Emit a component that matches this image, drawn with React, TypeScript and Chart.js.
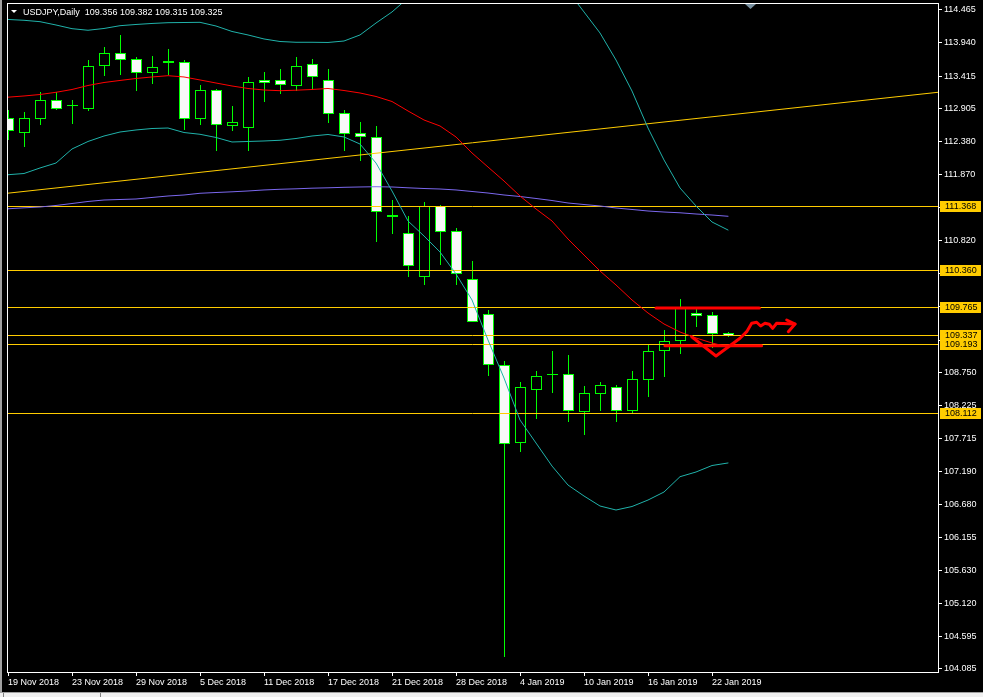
import React, { useEffect, useRef } from "react";
import { Chart, registerables } from "chart.js";
Chart.register(...registerables);

// ---------- data ----------
const dates = [
  "19 Nov 2018", "20 Nov 2018", "21 Nov 2018", "22 Nov 2018", "23 Nov 2018", "26 Nov 2018",
  "27 Nov 2018", "28 Nov 2018", "29 Nov 2018", "30 Nov 2018", "3 Dec 2018", "4 Dec 2018",
  "5 Dec 2018", "6 Dec 2018", "7 Dec 2018", "10 Dec 2018", "11 Dec 2018", "12 Dec 2018",
  "13 Dec 2018", "14 Dec 2018", "17 Dec 2018", "18 Dec 2018", "19 Dec 2018", "20 Dec 2018",
  "21 Dec 2018", "24 Dec 2018", "26 Dec 2018", "27 Dec 2018", "28 Dec 2018", "31 Dec 2018",
  "2 Jan 2019", "3 Jan 2019", "4 Jan 2019", "7 Jan 2019", "8 Jan 2019", "9 Jan 2019",
  "10 Jan 2019", "11 Jan 2019", "14 Jan 2019", "15 Jan 2019", "16 Jan 2019", "17 Jan 2019",
  "18 Jan 2019", "21 Jan 2019", "22 Jan 2019", "23 Jan 2019",
];
const xTickIdx = [0, 4, 8, 12, 16, 20, 24, 28, 32, 36, 40, 44];

const openP = [
  112.750, 112.530, 112.750, 113.033, 112.950, 112.907, 113.584, 113.773, 113.678, 113.474,
  113.648, 113.631, 112.750, 113.190, 112.640, 112.608, 113.348, 113.348, 113.269, 113.600,
  113.348, 112.829, 112.514, 112.451, 111.212, 110.940, 110.264, 111.365, 110.972, 110.216,
  109.666, 108.863, 107.651, 108.486, 108.718, 108.722, 108.133, 108.423, 108.517, 108.149,
  108.643, 109.099, 109.250, 109.681, 109.650, 109.356,
];
const highP = [
  112.880, 112.844, 113.159, 113.148, 113.027, 113.667, 113.861, 114.045, 113.699, 113.730,
  113.825, 113.663, 113.258, 113.206, 112.943, 113.384, 113.478, 113.521, 113.710, 113.678,
  113.521, 112.865, 112.676, 112.613, 111.464, 111.197, 111.417, 111.370, 111.008, 110.489,
  109.733, 108.915, 108.600, 108.758, 109.088, 109.010, 108.522, 108.600, 108.548, 108.773,
  109.183, 109.403, 109.891, 109.760, 109.697, 109.382,
];
const lowP = [
  112.419, 112.303, 112.649, 112.885, 112.665, 112.876, 113.420, 113.436, 113.184, 113.301,
  113.436, 112.570, 112.649, 112.240, 112.555, 112.240, 113.011, 113.143, 113.190, 113.206,
  112.676, 112.240, 112.083, 110.808, 110.934, 110.257, 110.138, 110.446, 110.138, 109.545,
  108.703, 104.278, 107.504, 108.023, 108.432, 107.976, 107.771, 108.149, 107.976, 108.117,
  108.369, 108.684, 109.046, 109.471, 109.140, 109.315,
];
const closeP = [
  112.550, 112.750, 113.033, 112.907, 112.958, 113.568, 113.773, 113.678, 113.474, 113.552,
  113.625, 112.750, 113.190, 112.649, 112.687, 113.316, 113.316, 113.285, 113.568, 113.411,
  112.829, 112.514, 112.467, 111.286, 111.222, 110.437, 111.365, 110.972, 110.311, 109.556,
  108.879, 107.636, 108.517, 108.690, 108.726, 108.149, 108.423, 108.548, 108.149, 108.643,
  109.088, 109.241, 109.760, 109.650, 109.367, 109.325,
];

// Bollinger Bands (20) and moving averages
const bbUpper = [
  114.305, 114.292, 114.270, 114.218, 114.160, 114.135, 114.163, 114.207, 114.226, 114.242,
  114.254, 114.257, 114.260, 114.202, 114.116, 114.061, 113.998, 113.958, 113.946, 113.946,
  113.943, 113.966, 114.061, 114.249, 114.423, 114.643, 115.005, 115.241, 115.430, 115.603,
  115.744, 115.792, 115.713, 115.477, 115.162, 114.753, 114.423, 114.092, 113.667, 113.179,
  112.597, 112.094, 111.653, 111.370, 111.118, 110.992,
];
const bbMiddle = [
  113.082, 113.101, 113.124, 113.159, 113.203, 113.266, 113.313, 113.345, 113.376, 113.400,
  113.420, 113.400, 113.353, 113.305, 113.258, 113.219, 113.195, 113.184, 113.192, 113.203,
  113.219, 113.187, 113.148, 113.093, 113.014, 112.865, 112.723, 112.629, 112.456, 112.204,
  111.983, 111.763, 111.527, 111.323, 111.134, 110.850, 110.599, 110.347, 110.127, 109.891,
  109.686, 109.513, 109.387, 109.293, 109.214, 109.151,
];
const bbLower = [
  111.862, 111.881, 111.968, 112.046, 112.267, 112.385, 112.471, 112.534, 112.566, 112.589,
  112.597, 112.526, 112.498, 112.448, 112.377, 112.385, 112.393, 112.404, 112.432, 112.471,
  112.495, 112.456, 112.345, 112.046, 111.606, 111.134, 110.898, 110.646, 110.300, 109.891,
  109.261, 108.663, 108.002, 107.640, 107.278, 106.979, 106.806, 106.649, 106.586, 106.641,
  106.743, 106.869, 107.110, 107.184, 107.286, 107.326,
];
const maSlow = [
  111.326, 111.341, 111.354, 111.378, 111.409, 111.441, 111.464, 111.472, 111.480, 111.504,
  111.527, 111.543, 111.570, 111.582, 111.593, 111.606, 111.622, 111.633, 111.640, 111.650,
  111.656, 111.664, 111.669, 111.673, 111.669, 111.656, 111.645, 111.637, 111.622, 111.598,
  111.574, 111.543, 111.519, 111.488, 111.456, 111.417, 111.393, 111.370, 111.338, 111.315,
  111.291, 111.275, 111.263, 111.244, 111.228, 111.208,
];

// Rising trendline (bar index, price)
const trendIdx = [-1, 59];
const trendPrice = [111.544, 113.183];

// Horizontal price levels
const levels = [111.368, 110.36, 109.765, 109.337, 109.193, 108.112];

// Red hand drawings
const redTopIdx = [40.5, 46.96];
const redTopPrice = [109.765, 109.765];
const redBotIdx = [41.06, 47.1];
const redBotPrice = [109.172, 109.172];
const redPathIdx = [42.73, 44.25, 45.75, 46.17, 46.48, 46.79, 47.04, 47.31, 47.58, 47.79, 48.04, 49.19];
const redPathPrice = [109.313, 109.01, 109.288, 109.392, 109.524, 109.54, 109.481, 109.524, 109.508, 109.445, 109.524, 109.513];
const arrowIdx = [48.67, 49.19, 48.77];
const arrowPrice = [109.576, 109.513, 109.392];

// Price axis ticks
const yTicks = [
  114.465, 113.94, 113.415, 112.905, 112.38, 111.87, 111.345, 110.82, 110.31, 109.785, 109.26,
  108.75, 108.225, 107.715, 107.19, 106.68, 106.155, 105.63, 105.12, 104.595, 104.085,
];

const headerText = "USDJPY,Daily  109.356 109.382 109.315 109.325";

// ---------- styling ----------
const FONT = "'Liberation Sans', Arial, sans-serif";
const GOLD = "#FFCC00";
const GREEN = "#00FF00";
const TEAL = "#20B2AA";

const lineDs = (xs: number[], ys: number[], color: string, width: number) => ({
  type: "line" as const,
  data: xs.map((x, i) => ({ x, y: ys[i] })),
  borderColor: color,
  borderWidth: width,
  pointRadius: 0,
  pointHoverRadius: 0,
  fill: false,
  tension: 0,
  clip: 0,
  borderJoinStyle: "round" as const,
  borderCapStyle: "round" as const,
});

const idx = dates.map((_, i) => i);

const bgPlugin = {
  id: "bg",
  beforeDraw(chart: any) {
    const { ctx, width, height } = chart;
    ctx.save();
    ctx.fillStyle = "#000000";
    ctx.fillRect(0, 0, width, height);
    ctx.restore();
  },
};

const candlePlugin = {
  id: "candles",
  beforeDatasetsDraw(chart: any) {
    const { ctx, chartArea: a, scales } = chart;
    const x = scales.x;
    const y = scales.y;
    ctx.save();
    ctx.beginPath();
    ctx.rect(a.left, a.top, a.right - a.left, a.bottom - a.top);
    ctx.clip();
    ctx.lineWidth = 1;
    ctx.strokeStyle = GREEN;
    for (let i = 0; i < openP.length; i++) {
      const cx = Math.round(x.getPixelForValue(i));
      const yo = Math.floor(y.getPixelForValue(openP[i]));
      const yc = Math.floor(y.getPixelForValue(closeP[i]));
      const yh = Math.floor(y.getPixelForValue(highP[i]));
      const yl = Math.floor(y.getPixelForValue(lowP[i]));
      ctx.beginPath();
      ctx.moveTo(cx + 0.5, yh);
      ctx.lineTo(cx + 0.5, yl + 1);
      ctx.stroke();
      const top = Math.min(yo, yc);
      const bot = Math.max(yo, yc);
      if (bot - top < 1) {
        ctx.beginPath();
        ctx.moveTo(cx - 5, top + 0.5);
        ctx.lineTo(cx + 6, top + 0.5);
        ctx.stroke();
      } else {
        ctx.fillStyle = closeP[i] < openP[i] ? "#F8F8F8" : "#000000";
        ctx.fillRect(cx - 5, top, 11, bot - top + 1);
        ctx.strokeRect(cx - 4.5, top + 0.5, 10, bot - top);
      }
    }
    // horizontal levels
    ctx.strokeStyle = GOLD;
    for (const v of levels) {
      const py = Math.floor(y.getPixelForValue(v)) + 0.5;
      ctx.beginPath();
      ctx.moveTo(a.left, py);
      ctx.lineTo(a.right, py);
      ctx.stroke();
    }
    ctx.restore();
  },
};

const overlayPlugin = {
  id: "overlay",
  afterDraw(chart: any) {
    const { ctx, chartArea: a, scales, width, height } = chart;
    const y = scales.y;
    ctx.save();
    // frame
    ctx.strokeStyle = "#FFFFFF";
    ctx.lineWidth = 1;
    ctx.strokeRect(a.left + 0.5, a.top + 0.5, a.right - a.left, a.bottom - a.top);
    // level labels
    ctx.font = `9px ${FONT}`;
    ctx.textBaseline = "middle";
    ctx.textAlign = "left";
    for (const v of levels) {
      const py = Math.floor(y.getPixelForValue(v)) + 0.5;
      ctx.fillStyle = GOLD;
      ctx.fillRect(a.right + 2, py - 5.5, 41, 11);
      ctx.fillStyle = "#000000";
      ctx.fillText(v.toFixed(3), a.right + 7, py + 0.5);
    }
    // header
    ctx.fillStyle = "#FFFFFF";
    ctx.beginPath();
    ctx.moveTo(11, 10);
    ctx.lineTo(17, 10);
    ctx.lineTo(14, 13);
    ctx.closePath();
    ctx.fill();
    ctx.font = `9px ${FONT}`;
    ctx.textBaseline = "alphabetic";
    ctx.fillText(headerText, 23, 15);
    // chart shift marker
    ctx.fillStyle = "#7890A0";
    ctx.beginPath();
    ctx.moveTo(745, 4);
    ctx.lineTo(756, 4);
    ctx.lineTo(750.5, 9);
    ctx.closePath();
    ctx.fill();
    // window edges
    ctx.fillStyle = "#A0A0A0";
    ctx.fillRect(0, 0, 2, height);
    ctx.fillStyle = "#A0A0A0";
    ctx.fillRect(0, 692, width, 1);
    ctx.fillStyle = "#F0F0F0";
    ctx.fillRect(0, 693, width, height - 693);
    ctx.fillStyle = "#808080";
    ctx.fillRect(3, 693, 1, height - 693);
    ctx.fillRect(100, 693, 1, height - 693);
    ctx.restore();
  },
};

export default function App() {
  const ref = useRef<HTMLCanvasElement>(null);
  useEffect(() => {
    document.body.style.margin = "0";
    document.body.style.background = "#000";
    document.body.style.overflow = "hidden";
    const datasets: any[] = [
      lineDs(idx, bbUpper, TEAL, 1),
      lineDs(idx, bbLower, TEAL, 1),
      lineDs(idx, bbMiddle, "#FF0000", 1),
      lineDs(idx, maSlow, "#7B68EE", 1),
      lineDs(trendIdx, trendPrice, GOLD, 1),
      lineDs(redTopIdx, redTopPrice, "#FF0000", 3),
      lineDs(redBotIdx, redBotPrice, "#FF0000", 3),
      lineDs(redPathIdx, redPathPrice, "#FF0000", 3),
      lineDs(arrowIdx, arrowPrice, "#FF0000", 3),
    ];
    const chart = new Chart(ref.current!, {
      type: "line",
      data: { datasets },
      plugins: [bgPlugin, candlePlugin, overlayPlugin],
      options: {
        animation: false,
        responsive: false,
        devicePixelRatio: 1,
        events: [],
        layout: { padding: { left: 7, top: 3, right: 0, bottom: 0 }, autoPadding: false },
        plugins: { legend: { display: false }, tooltip: { enabled: false } },
        scales: {
          x: {
            type: "linear",
            position: "bottom",
            min: -0.0625,
            max: 58.125,
            afterBuildTicks: (s: any) => {
              s.ticks = xTickIdx.map((v) => ({ value: v }));
            },
            afterFit: (s: any) => {
              s.height = 25;
              s.paddingLeft = 0;
              s.paddingRight = 0;
            },
            ticks: {
              autoSkip: false,
              maxRotation: 0,
              minRotation: 0,
              align: "start",
              padding: 1,
              color: "#FFFFFF",
              font: { family: FONT, size: 9 },
              callback: (v: any) => dates[Math.round(Number(v))] ?? "",
            },
            grid: { drawOnChartArea: false, drawTicks: true, tickLength: 4, color: "#FFFFFF" },
            border: { display: false },
          },
          y: {
            type: "linear",
            position: "right",
            min: 104.037,
            max: 114.564,
            afterBuildTicks: (s: any) => {
              s.ticks = yTicks.map((v) => ({ value: v }));
            },
            afterFit: (s: any) => {
              s.width = 45;
              s.paddingTop = 0;
              s.paddingBottom = 0;
            },
            ticks: {
              autoSkip: false,
              padding: 2,
              color: "#FFFFFF",
              font: { family: FONT, size: 9 },
              callback: (v: any) => Number(v).toFixed(3),
            },
            grid: { drawOnChartArea: false, drawTicks: true, tickLength: 4, color: "#FFFFFF" },
            border: { display: false },
          },
        },
      } as any,
    });
    return () => chart.destroy();
  }, []);
  return (
    <canvas
      ref={ref}
      width={983}
      height={697}
      style={{ display: "block", width: 983, height: 697 }}
    />
  );
}
